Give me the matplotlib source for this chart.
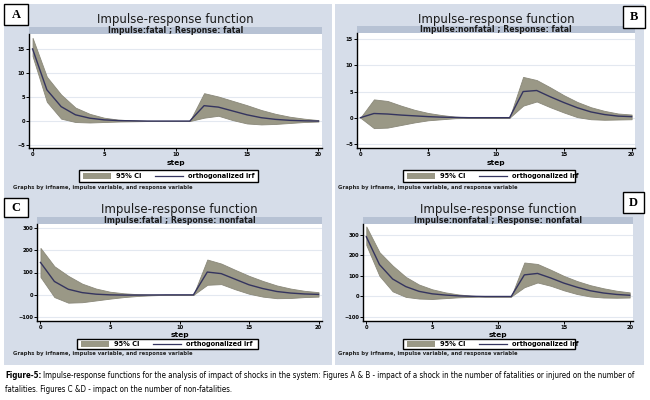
import matplotlib.pyplot as plt
from matplotlib.patches import Rectangle

# steps 0..20
steps = list(range(21))

# panel A: impulse fatal, response fatal
a_irf = [15, 6.5, 3, 1.3, 0.6, 0.25, 0.1, 0.05, 0, 0, 0, 0, 3.2, 2.9, 2.1, 1.3, 0.7, 0.35, 0.15, 0.05, 0]
a_lo = [13.5, 4, 0.5, -0.2, -0.3, -0.2, -0.1, -0.05, 0, 0, 0, 0, 0.7, 1.1, 0.2, -0.5, -0.7, -0.6, -0.4, -0.2, -0.1]
a_hi = [17.3, 9.2, 5.5, 2.8, 1.5, 0.7, 0.3, 0.15, 0.05, 0, 0, 0, 5.8, 5.1, 4.2, 3.3, 2.3, 1.5, 0.9, 0.5, 0.2]

# panel B: impulse nonfatal, response fatal
b_irf = [0, 0.8, 0.7, 0.5, 0.35, 0.2, 0.1, 0.05, 0, 0, 0, 0, 5.0, 5.2, 4.0, 2.9, 1.9, 1.1, 0.6, 0.3, 0.2]
b_lo = [0, -2, -1.9, -1.4, -0.9, -0.5, -0.3, -0.1, -0.05, 0, 0, 0, 2.3, 3.1, 2.0, 1.0, 0.1, -0.3, -0.4, -0.35, -0.3]
b_hi = [0, 3.5, 3.2, 2.3, 1.5, 0.9, 0.5, 0.2, 0.05, 0, 0, 0, 7.8, 7.2, 5.8, 4.3, 3.0, 2.0, 1.3, 0.8, 0.6]

# panel C: impulse fatal, response nonfatal
c_irf = [145, 60, 25, 10, 3, 0, -1, -1, -0.5, 0, 0, 0, 102, 95, 70, 45, 28, 15, 8, 4, 2]
c_lo = [80, -10, -35, -33, -25, -17, -10, -5, -2, 0, 0, 0, 45, 48, 25, 5, -8, -15, -14, -10, -8]
c_hi = [210, 128, 85, 50, 28, 14, 7, 3, 1, 0, 0, 0, 158, 140, 112, 85, 62, 42, 28, 18, 12]

# panel D: impulse nonfatal, response nonfatal
d_irf = [290, 155, 85, 48, 25, 13, 7, 3, 1, 0, 0, 0, 105, 112, 90, 65, 45, 28, 17, 10, 6]
d_lo = [250, 100, 25, -2, -10, -12, -8, -4, -2, 0, 0, 0, 45, 68, 52, 30, 12, 0, -5, -6, -5]
d_hi = [340, 215, 150, 95, 58, 35, 20, 10, 4, 0, 0, 0, 165, 158, 130, 100, 75, 55, 40, 28, 20]

W, H = 650, 400
BG = "#d6dde9"
BAND = "#b7c2d4"
CI = "#9a9886"
LINE = "#34345f"
GRID = "#e3e8f0"

fig = plt.figure(figsize=(6.5, 4), dpi=100)
fig.patch.set_facecolor("white")


def rect(x0, y0, x1, y1):
    return [x0 / W, 1 - y1 / H, (x1 - x0) / W, (y1 - y0) / H]


def fx(x):
    return x / W


def fy(y):
    return 1 - y / H


# panel backgrounds
for x0, x1 in [(4, 332), (335, 644)]:
    fig.patches.append(Rectangle((fx(x0), fy(365)), (x1 - x0) / W, (365 - 4) / H,
                                 transform=fig.transFigure, facecolor=BG, edgecolor="none", zorder=0))

panels = [
    # letter, subtitle, irf, lo, hi, plot box, ylim, yticks, label box, title y, legend box, "graphs by" x/y, step y
    ("A", "Impulse:fatal ; Response: fatal", a_irf, a_lo, a_hi, (29, 34, 322, 148), (-5.6, 18.1),
     [-5, 0, 5, 10, 15], (4, 4, 28, 25), 20, (79, 170, 258, 182), 13, 187, 163),
    ("B", "Impulse:nonfatal ; Response: fatal", b_irf, b_lo, b_hi, (357, 33, 635, 148), (-5.8, 16.2),
     [-5, 0, 5, 10, 15], (623, 6, 645, 28), 20, (403, 170, 575, 182), 338, 187, 163),
    ("C", "Impulse:fatal ; Response: nonfatal", c_irf, c_lo, c_hi, (37, 224, 322, 321), (-117, 317),
     [-100, 0, 100, 200, 300], (4, 198, 28, 217), 210, (77, 339, 258, 349), 13, 354, 334.5),
    ("D", "Impulse:nonfatal ; Response: nonfatal", d_irf, d_lo, d_hi, (363, 224, 633, 321), (-119, 352),
     [-100, 0, 100, 200, 300], (623, 192, 644, 213), 210, (403, 339, 575, 349), 338, 354, 334.5),
]

for (letter, sub, irf, lo, hi, box, ylim, yticks, lbox, ty, legbox, gx, gy, sy) in panels:
    x0, y0, x1, y1 = box
    # subtitle band
    fig.patches.append(Rectangle((fx(x0), fy(y0)), (x1 - x0) / W, 7 / H,
                                 transform=fig.transFigure, facecolor=BAND, edgecolor="none", zorder=1))
    fig.text(fx((x0 + x1) / 2), fy(y0 - 3.5), sub, ha="center", va="center",
             fontsize=5.6, fontweight="bold", color="#1a1a1a")
    fig.text(fx((x0 + x1) / 2), fy(ty), "Impulse-response function", ha="center", va="center",
             fontsize=8.5, color="#1a1a1a")

    ax = fig.add_axes(rect(x0, y0, x1, y1))
    ax.set_zorder(1.5)
    ax.set_facecolor("white")
    ax.fill_between(steps, lo, hi, color=CI, linewidth=0.6, edgecolor="#8a887a", zorder=2)
    ax.plot(steps, irf, color=LINE, linewidth=1.0, zorder=3)
    ax.set_xlim(-0.25, 20.25)
    ax.set_ylim(*ylim)
    ax.set_xticks([0, 5, 10, 15, 20])
    ax.set_yticks(yticks)
    ax.grid(axis="y", color=GRID, linewidth=0.8)
    ax.set_axisbelow(True)
    for s in ["top", "right"]:
        ax.spines[s].set_visible(False)
    for s in ["left", "bottom"]:
        ax.spines[s].set_linewidth(1.0)
        ax.spines[s].set_color("black")
    ax.tick_params(axis="both", labelsize=3.7, length=2, width=0.7, pad=1)
    for lab in ax.get_xticklabels() + ax.get_yticklabels():
        lab.set_fontweight("bold")
    fig.text(fx((x0 + x1) / 2), fy(sy), "step", ha="center", va="center",
             fontsize=5.4, fontweight="bold")

    # legend box
    lx0, ly0, lx1, ly1 = legbox
    fig.patches.append(Rectangle((fx(lx0), fy(ly1)), (lx1 - lx0) / W, (ly1 - ly0) / H,
                                 transform=fig.transFigure, facecolor="white", edgecolor="black",
                                 linewidth=1.0, zorder=2))
    ym = (ly0 + ly1) / 2
    fig.patches.append(Rectangle((fx(lx0 + 4), fy(ym + 3)), 28 / W, 6 / H,
                                 transform=fig.transFigure, facecolor=CI, edgecolor="none", zorder=3))
    fig.text(fx(lx0 + 50), fy(ym), "95% CI", ha="center", va="center", fontsize=4.8, fontweight="bold", zorder=4)
    fig.lines.append(plt.Line2D([fx(lx0 + 76), fx(lx0 + 104)], [fy(ym), fy(ym)],
                                transform=fig.transFigure, color=LINE, linewidth=0.9, zorder=4))
    fig.text(fx(lx0 + 142), fy(ym), "orthogonalized irf", ha="center", va="center",
             fontsize=4.8, fontweight="bold", zorder=4)

    fig.text(fx(gx), fy(gy), "Graphs by irfname, impulse variable, and response variable",
             ha="left", va="center", fontsize=3.8, fontweight="bold", color="#222222")

    # letter box
    bx0, by0, bx1, by1 = lbox
    fig.patches.append(Rectangle((fx(bx0), fy(by1)), (bx1 - bx0) / W, (by1 - by0) / H,
                                 transform=fig.transFigure, facecolor="white", edgecolor="black",
                                 linewidth=1.0, zorder=5))
    fig.text(fx((bx0 + bx1) / 2), fy((by0 + by1) / 2), letter, ha="center", va="center",
             fontsize=9, fontweight="bold", family="Liberation Serif", zorder=6)

# caption, condensed and fitted to the width of the figure
cap_size = 7.2
line1 = ("Impulse-response functions for the analysis of impact of shocks in the system: Figures A & B - "
         "impact of a shock in the number of fatalities or injured on the number of")
line2 = "fatalities. Figures C &D - impact on the number of non-fatalities."
t = fig.text(fx(5), fy(376), "Figure-5:", ha="left", va="center", fontsize=cap_size,
             fontweight="bold", fontstretch="condensed")
fig.canvas.draw()
bb = t.get_window_extent()
t1 = fig.text(bb.x1 / fig.bbox.width + 2 / W, fy(376), line1, ha="left", va="center",
              fontsize=cap_size, fontstretch="condensed")
fig.canvas.draw()
total = t1.get_window_extent().x1 - 5
scale = 640 / total
t.set_fontsize(cap_size * scale)
fig.canvas.draw()
bb = t.get_window_extent()
t1.set_fontsize(cap_size * scale)
t1.set_x(bb.x1 / fig.bbox.width + 2 / W)
fig.text(fx(5), fy(389), line2, ha="left", va="center", fontsize=cap_size * scale,
         fontstretch="condensed")

fig.savefig("out.png", dpi=100)
